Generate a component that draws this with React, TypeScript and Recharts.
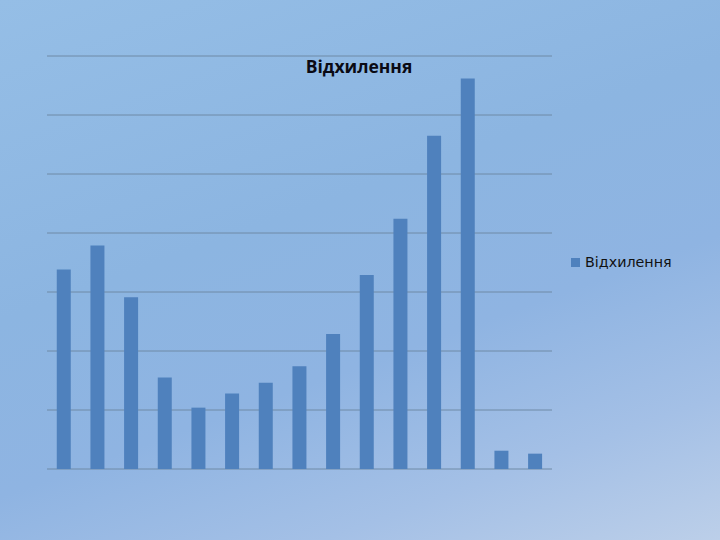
import React from "react";
import { BarChart, Bar, XAxis, YAxis, CartesianGrid, Legend } from "recharts";

const categories = ["1", "2", "3", "4", "5", "6", "7", "8", "9", "10", "11", "12", "13", "14", "15"];
const deviation = [3.38, 3.79, 2.91, 1.55, 1.04, 1.28, 1.46, 1.74, 2.29, 3.29, 4.24, 5.65, 6.62, 0.31, 0.26];
const yTicks = [0, 1, 2, 3, 4, 5, 6, 7];
const seriesName = "Відхилення";
const titleText = "Відхилення";

const data = categories.map((c, i) => ({ name: c, value: deviation[i] }));

const LegendContent = () => (
  <div style={{ display: "flex", alignItems: "center", fontFamily: "'DejaVu Sans', sans-serif", fontSize: 14.3, color: "#111" }}>
    <span style={{ display: "inline-block", width: 9, height: 9, background: "#4f81bd", marginRight: 5 }} />
    <span>{seriesName}</span>
  </div>
);

export default function App() {
  return (
    <div
      style={{
        position: "absolute",
        left: 0,
        top: 0,
        width: 720,
        height: 540,
        background: "linear-gradient(160deg, #95bee6 0%, #8cb5e1 40%, #8fb4e2 62%, #a4c0e6 82%, #bccfe9 100%)",
      }}
    >
      <BarChart
        width={720}
        height={540}
        data={data}
        margin={{ top: 56, left: 47, right: 168, bottom: 55 }}
        barCategoryGap="29%"
      >
        <CartesianGrid vertical={false} stroke="#6f8aa6" strokeWidth={1} />
        <XAxis dataKey="name" hide />
        <YAxis domain={[0, 7]} ticks={yTicks} hide />
        <Legend
          content={<LegendContent />}
          wrapperStyle={{ position: "absolute", left: 571, top: 254, width: 140 }}
        />
        <Bar dataKey="value" name={seriesName} fill="#4f81bd" isAnimationActive={false} />
        <text
          x={359}
          y={73}
          textAnchor="middle"
          style={{ fontFamily: "'Open Sans', sans-serif", fontWeight: 700, fontSize: 17.5, fill: "#0a0a14" }}
        >
          {titleText}
        </text>
      </BarChart>
    </div>
  );
}
